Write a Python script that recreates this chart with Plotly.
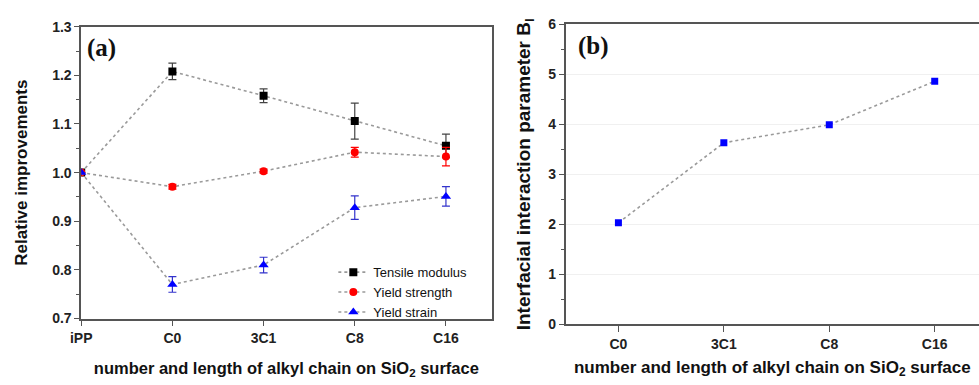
import plotly.graph_objects as go

# ---- data ----
cats_a = ["iPP", "C0", "3C1", "C8", "C16"]
tensile = [1.0, 1.208, 1.158, 1.106, 1.055]
tensile_err = [0.0, 0.017, 0.014, 0.037, 0.024]
strength = [1.0, 0.971, 1.003, 1.042, 1.033]
strength_err = [0.0, 0.005, 0.004, 0.010, 0.019]
strain = [1.0, 0.770, 0.810, 0.928, 0.951]
strain_err = [0.0, 0.016, 0.016, 0.024, 0.020]

cats_b = ["C0", "3C1", "C8", "C16"]
bi = [2.03, 3.63, 3.99, 4.86]

W, H = 979, 385
def px_x(v): return v / W
def px_y(v): return 1 - v / H

LINE = dict(color="#9a9a9a", width=1.6, dash="dot")
AX = "#555555"
TICKF = dict(family="Arial", size=14, color="#222", weight="bold")

fig = go.Figure()

series = [
    ("Tensile modulus", tensile, tensile_err, "black", "square", 8, "#444"),
    ("Yield strength", strength, strength_err, "red", "circle", 8, "red"),
    ("Yield strain", strain, strain_err, "blue", "triangle-up", 9, "#3333cc"),
]
for name, y, e, col, sym, sz, ecol in series:
    fig.add_trace(go.Scatter(
        x=cats_a, y=y, name=name, mode="lines+markers",
        line=LINE, marker=dict(color=col, symbol=sym, size=sz),
        error_y=dict(type="data", array=e, visible=True, color=ecol, thickness=1.2, width=4),
        xaxis="x", yaxis="y"))

fig.add_trace(go.Scatter(
    x=cats_b, y=bi, mode="lines+markers", showlegend=False,
    line=LINE, marker=dict(color="blue", symbol="square", size=7),
    xaxis="x2", yaxis="y2"))

common_x = dict(type="category", showline=True, linecolor=AX, linewidth=1.6,
                ticks="outside", ticklen=6, tickcolor=AX, tickwidth=1.2,
                tickfont=TICKF, showgrid=False, zeroline=False)

fig.update_layout(
    width=W, height=H, margin=dict(l=0, r=0, t=0, b=0),
    plot_bgcolor="white", paper_bgcolor="white",
    xaxis=dict(**common_x, domain=[px_x(71), px_x(486)], range=[0, 4.5],
               mirror=True, anchor="y",
               title=dict(text="number and length of alkyl chain on SiO<sub>2</sub> surface",
                          font=dict(family="Arial", size=16.5, color="#111", weight="bold"),
                          standoff=17)),
    yaxis=dict(domain=[px_y(324), px_y(19.5)], range=[0.7, 1.3], dtick=0.1,
               tickformat=".1f", showline=True, linecolor=AX, linewidth=1.6,
               mirror=True, ticks="outside", ticklen=5, tickcolor=AX, tickwidth=1.2,
               minor=dict(dtick=0.05, ticks="outside", ticklen=3, tickcolor=AX, showgrid=False),
               tickfont=TICKF, showgrid=False, zeroline=False, anchor="x",
               title=dict(text="Relative improvements",
                          font=dict(family="Arial", size=17, color="#111", weight="bold"),
                          standoff=20)),
    xaxis2=dict(**common_x, domain=[px_x(561), 1.0], range=[-0.5, 3.42],
                mirror=True, anchor="y2",
                title=dict(text="number and length of alkyl chain on SiO<sub>2</sub> surface",
                           font=dict(family="Arial", size=17, color="#111", weight="bold"),
                           standoff=10)),
    yaxis2=dict(domain=[px_y(330), px_y(17)], range=[0, 6], dtick=1,
                showline=True, linecolor=AX, linewidth=1.6,
                ticks="outside", ticklen=5, tickcolor=AX, tickwidth=1.2,
                minor=dict(dtick=0.5, ticks="outside", ticklen=3, tickcolor=AX, showgrid=False),
                tickfont=TICKF, showgrid=True, gridcolor="#f0f0f0", gridwidth=1,
                zeroline=False, anchor="x2",
                title=dict(text="Interfacial interaction parameter B<sub>I</sub>",
                           font=dict(family="Arial", size=19, color="#111", weight="bold"),
                           standoff=13)),
    legend=dict(x=px_x(326), y=px_y(260), xanchor="left", yanchor="top",
                bgcolor="rgba(0,0,0,0)", font=dict(family="Arial", size=13, color="#111"),
                tracegroupgap=0, itemwidth=30),
    annotations=[
        dict(text="<b>(a)</b>", x=px_x(75), y=px_y(42), xref="paper", yref="paper",
             xanchor="left", yanchor="middle", showarrow=False,
             font=dict(family="Liberation Serif", size=25, color="#111")),
        dict(text="<b>(b)</b>", x=px_x(571), y=px_y(40), xref="paper", yref="paper",
             xanchor="left", yanchor="middle", showarrow=False,
             font=dict(family="Liberation Serif", size=25, color="#111")),
    ],
)

fig.write_html("out.html")
